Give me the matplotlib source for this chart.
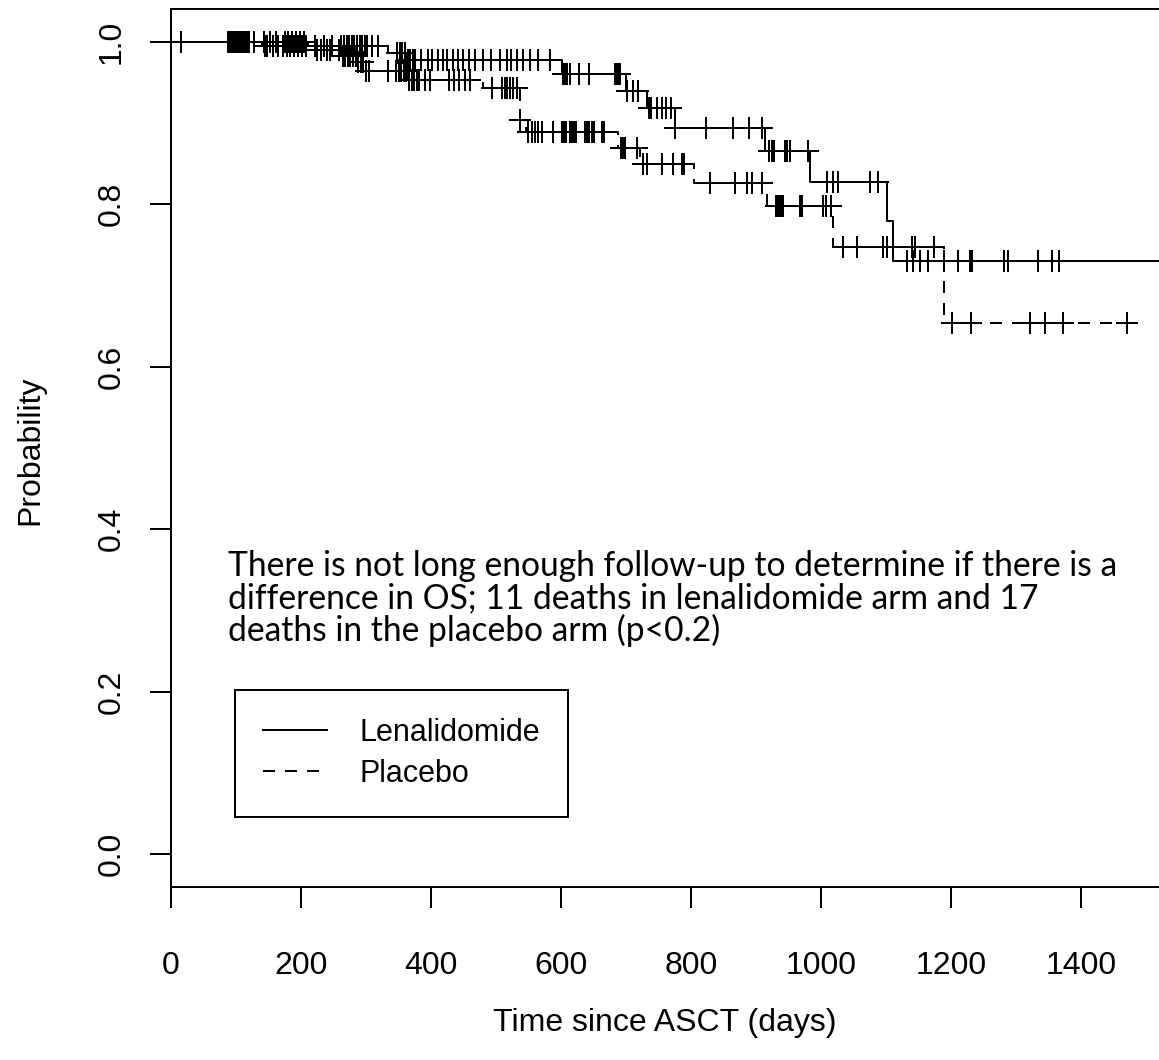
import matplotlib
matplotlib.use("Agg")
import matplotlib.pyplot as plt
import numpy as np
from matplotlib.lines import Line2D

# Kaplan-Meier steps (days since ASCT, survival after step)
len_event_days = [210, 334, 362, 601, 700, 732, 775, 914, 983, 1102, 1111]
len_event_surv = [0.995, 0.986, 0.977, 0.960, 0.940, 0.919, 0.894, 0.865, 0.827, 0.779, 0.730]

pla_event_days = [140, 215, 262, 285, 300, 365, 480, 537, 546, 688, 722, 804, 917, 1019, 1189]
pla_event_surv = [0.995, 0.990, 0.982, 0.975, 0.964, 0.953, 0.943, 0.904, 0.889, 0.869,
                  0.850, 0.826, 0.798, 0.748, 0.654]

# censoring times (+ marks)
len_cens_days = [16, 90, 95, 100, 105, 110, 115, 120, 128, 143, 152, 161, 175, 180, 186,
                 192, 198, 204, 221, 235, 248, 262, 266, 270, 274, 278, 282, 286, 290,
                 294, 298, 302, 309, 318, 348, 352, 356, 360, 364, 368, 372, 376, 384,
                 396, 402, 410, 418, 425, 434, 441, 449, 458, 468, 480, 493, 506, 517,
                 523, 532, 542, 552, 565, 583, 603, 606, 609, 614, 628, 643, 683, 686,
                 688, 691, 701, 711, 718, 735, 738, 748, 755, 762, 769, 775, 823, 865,
                 889, 909, 920, 925, 927, 945, 948, 952, 980, 1009, 1018, 1026, 1075,
                 1088, 1132, 1142, 1152, 1165, 1189, 1211, 1229, 1232, 1282, 1288, 1334,
                 1355, 1366, 1545]
pla_cens_days = [88, 93, 98, 103, 108, 113, 118, 145, 148, 157, 165, 172, 178, 183, 189,
                 195, 201, 207, 225, 230, 240, 244, 258, 264, 268, 272, 276, 280, 284,
                 288, 292, 296, 300, 305, 334, 346, 350, 354, 358, 362, 366, 370, 374,
                 378, 382, 390, 398, 428, 436, 443, 452, 460, 494, 509, 514, 517, 522,
                 526, 532, 537, 549, 555, 560, 565, 571, 588, 601, 604, 607, 614, 617,
                 620, 623, 637, 640, 643, 647, 650, 663, 666, 693, 696, 698, 717, 726,
                 732, 755, 772, 786, 789, 829, 868, 886, 894, 909, 931, 934, 937, 940,
                 942, 968, 971, 1003, 1008, 1015, 1034, 1055, 1095, 1102, 1140, 1145,
                 1174, 1202, 1231, 1322, 1345, 1372, 1471]

arm_labels = ["Lenalidomide", "Placebo"]
x_ticks = [0, 200, 400, 600, 800, 1000, 1200, 1400]
y_ticks = [0.0, 0.2, 0.4, 0.6, 0.8, 1.0]

note = ("There is not long enough follow-up to determine if there is a\n"
        "difference in OS; 11 deaths in lenalidomide arm and 17\n"
        "deaths in the placebo arm (p<0.2)")

LW = 1.44
AX_FONT = ["Liberation Sans", "DejaVu Sans"]


def km_curve(ev_days, ev_surv, cens_days):
    """step coordinates and censor heights for one arm"""
    ev_days = np.asarray(ev_days, float)
    ev_surv = np.asarray(ev_surv, float)
    cens = np.asarray(cens_days, float)
    t_end = max(ev_days.max(), cens.max())
    xs = np.concatenate([[0.0], ev_days, [t_end]])
    ys = np.concatenate([[1.0], ev_surv, [ev_surv[-1]]])
    idx = np.searchsorted(ev_days, cens, side="right")
    cy = np.where(idx > 0, ev_surv[np.maximum(idx - 1, 0)], 1.0)
    return xs, ys, cens, cy, t_end


plt.rcParams["font.family"] = AX_FONT

fig = plt.figure(figsize=(11.59, 10.60), dpi=100)

len_xs, len_ys, len_cx, len_cy, len_end = km_curve(len_event_days, len_event_surv, len_cens_days)
pla_xs, pla_ys, pla_cx, pla_cy, pla_end = km_curve(pla_event_days, pla_event_surv, pla_cens_days)

# survfit-style x range: starts at 0, 4% extra on the right
x_max = 1.04 * max(len_end, pla_end)
px_per_day = 0.65
left_px, bottom_px, top_px = 171, 886.7, 9.3
ax = fig.add_axes([left_px / 1159, (1060 - bottom_px) / 1060,
                   x_max * px_per_day / 1159, (bottom_px - top_px) / 1060])

ax.step(len_xs, len_ys, where="post", color="black", lw=LW)
ax.step(pla_xs, pla_ys, where="post", color="black", lw=LW, linestyle=(0, (6, 5)))
ax.plot(len_cx, len_cy, "+", color="black", ms=16, mew=LW)
ax.plot(pla_cx, pla_cy, "+", color="black", ms=16, mew=LW)

ax.set_xlim(0, x_max)
ax.set_ylim(-0.04, 1.04)
ax.set_xticks(x_ticks)
ax.set_yticks(y_ticks)
ax.set_xticklabels([str(v) for v in x_ticks])
ax.set_yticklabels([f"{v:.1f}" for v in y_ticks], rotation=90, va="center")
ax.tick_params(axis="both", direction="out", length=15, width=LW, labelsize=23)
ax.tick_params(axis="x", pad=31)
ax.tick_params(axis="y", pad=17)
for sp in ax.spines.values():
    sp.set_linewidth(LW)

ax.set_xlabel("Time since ASCT (days)", fontsize=23, labelpad=20)
fig.text(30 / 1159, 1 - 450 / 1060, "Probability", rotation=90, fontsize=23,
         ha="center", va="center")
ax.xaxis.label.set_position(((665 - left_px) / (x_max * px_per_day), 0))

ax.text(87.7, 0.374, note, fontsize=24.2, family=["Lato", "DejaVu Sans"],
        va="top", ha="left", linespacing=1.0)

handles = [Line2D([], [], color="black", lw=LW),
           Line2D([], [], color="black", lw=LW, linestyle=(0, (6, 5)))]
leg = ax.legend(handles, arm_labels, loc="upper left",
                bbox_to_anchor=(235 / 1159, 1 - 690 / 1060),
                bbox_transform=fig.transFigure, fontsize=22, frameon=True,
                fancybox=False, edgecolor="black", framealpha=1, borderaxespad=0,
                borderpad=0.92, handlelength=2.1, handletextpad=1.05, labelspacing=0.35)
leg.get_frame().set_linewidth(LW)

fig.savefig("out.png", dpi=100)
